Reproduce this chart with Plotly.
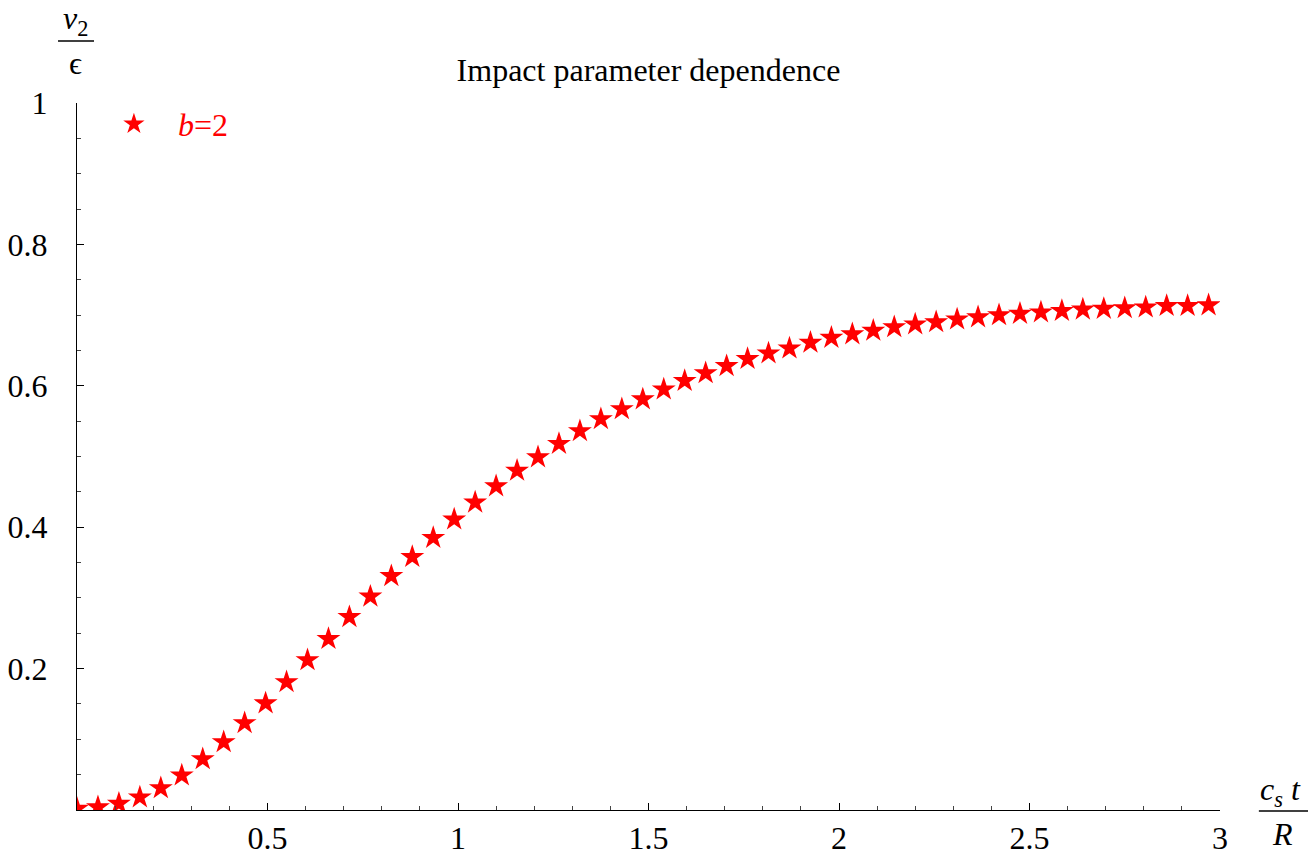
import plotly.graph_objects as go

# ---- data ----
ct_over_R = [0.0, 0.055, 0.11, 0.165, 0.22, 0.275, 0.33, 0.385, 0.44, 0.495,
             0.55, 0.605, 0.66, 0.715, 0.77, 0.825, 0.88, 0.935, 0.99, 1.045,
             1.1, 1.155, 1.21, 1.265, 1.32, 1.375, 1.43, 1.485, 1.54, 1.595,
             1.65, 1.705, 1.76, 1.815, 1.87, 1.925, 1.98, 2.035, 2.09, 2.145,
             2.2, 2.255, 2.31, 2.365, 2.42, 2.475, 2.53, 2.585, 2.64, 2.695,
             2.75, 2.805, 2.86, 2.915, 2.97]
v2_over_eps = [0.002, 0.004, 0.009, 0.018, 0.031, 0.049, 0.072, 0.096, 0.123, 0.151,
               0.181, 0.212, 0.242, 0.273, 0.302, 0.331, 0.358, 0.385, 0.411, 0.435,
               0.458, 0.480, 0.499, 0.518, 0.536, 0.553, 0.567, 0.581, 0.595, 0.607,
               0.618, 0.628, 0.638, 0.646, 0.653, 0.661, 0.668, 0.673, 0.678, 0.683,
               0.687, 0.690, 0.694, 0.697, 0.700, 0.702, 0.704, 0.706, 0.708, 0.709,
               0.710, 0.711, 0.713, 0.713, 0.714]
series_name = "<i>b</i>=2"
title_text = "Impact parameter dependence"
x_tickvals = [0.5, 1, 1.5, 2, 2.5, 3]
x_ticktext = ["0.5", "1", "1.5", "2", "2.5", "3"]
y_tickvals = [0.2, 0.4, 0.6, 0.8, 1.0]
y_ticktext = ["0.2", "0.4", "0.6", "0.8", "1"]

FONT = "Liberation Serif"
RED = "#ff0000"
FS = 32

fig = go.Figure()
fig.add_trace(go.Scatter(
    x=ct_over_R, y=v2_over_eps, mode="markers", name=series_name,
    marker=dict(symbol="star", size=18, color=RED, line=dict(width=0)),
    cliponaxis=True,
))

axis_common = dict(
    showline=True, linecolor="black", linewidth=1, mirror=False, automargin=False,
    showgrid=False, zeroline=False, ticks="inside", ticklen=7, tickwidth=1,
    tickcolor="black", tickfont=dict(family=FONT, size=FS, color="black"),
)

fig.update_xaxes(range=[0, 3], tickmode="array", tickvals=x_tickvals, ticktext=x_ticktext,
                 minor=dict(ticks="inside", ticklen=4, tickwidth=1, tickcolor="#444",
                            tickmode="linear", tick0=0, dtick=0.1),
                 ticklabelstandoff=0, **axis_common)
fig.update_yaxes(range=[0, 1], tickmode="array", tickvals=y_tickvals, ticktext=y_ticktext,
                 minor=dict(ticks="inside", ticklen=4, tickwidth=1, tickcolor="#444",
                            tickmode="linear", tick0=0, dtick=0.05),
                 ticklabelstandoff=22, **axis_common)

fig.update_layout(
    width=1315, height=856,
    margin=dict(l=77, r=95, t=103, b=46, autoexpand=False),
    paper_bgcolor="white", plot_bgcolor="white",
    font=dict(family=FONT, size=FS, color="black"),
    title=dict(text=title_text, x=0.5, xref="paper", y=1 - 70 / 856, yref="container",
               xanchor="center", yanchor="middle",
               font=dict(family=FONT, size=FS, color="black")),
    showlegend=True,
    legend=dict(x=0.0113, y=1.009, xanchor="left", yanchor="top", itemwidth=78,
                bgcolor="rgba(0,0,0,0)", borderwidth=0,
                font=dict(family=FONT, size=FS, color=RED)),
    annotations=[
        dict(text="<i>v</i><sub>2</sub>", xref="paper", yref="paper", x=-0.001, y=1.1165,
             showarrow=False, xanchor="center", yanchor="middle",
             font=dict(family=FONT, size=FS, color="black")),
        dict(text="\u03f5", xref="paper", yref="paper", x=-0.001, y=1.0566,
             showarrow=False, xanchor="center", yanchor="middle",
             font=dict(family=FONT, size=FS, color="black")),
        dict(text="<i>c</i><sub><i>s</i></sub> <i>t</i>", xref="paper", yref="paper",
             x=1.0525, y=0.0255, showarrow=False, xanchor="center", yanchor="middle",
             font=dict(family=FONT, size=FS, color="black")),
        dict(text="<i>R</i>", xref="paper", yref="paper", x=1.0550, y=-0.034,
             showarrow=False, xanchor="center", yanchor="middle",
             font=dict(family=FONT, size=FS, color="black")),
    ],
    shapes=[
        dict(type="line", xref="paper", yref="paper", x0=-0.0166, x1=0.0149,
             y0=1.0877, y1=1.0877, line=dict(color="black", width=1.5)),
        dict(type="line", xref="paper", yref="paper", x0=1.034, x1=1.077,
             y0=-0.0014, y1=-0.0014, line=dict(color="black", width=1.5)),
    ],
)

fig.write_html("out.html")
